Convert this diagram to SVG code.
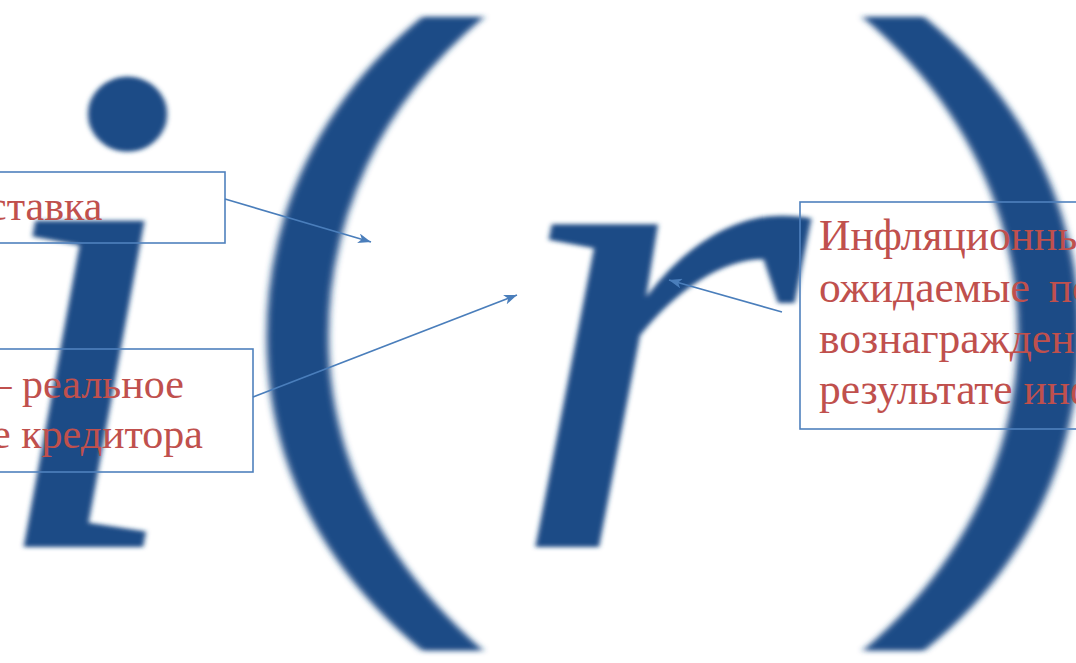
<svg xmlns="http://www.w3.org/2000/svg" width="1076" height="663" viewBox="0 0 1076 663">
  <style>
    .glyph { fill: #1f4b86; filter: url(#soft); }
    .gi { font-family: "Liberation Serif", "Times New Roman", serif; font-style: italic; font-size: 748px; }
    .gp { font-family: "Noto Sans", "DejaVu Sans", sans-serif; font-weight: 300; font-size: 727px; }
    .box { fill: none; stroke: #4f81bd; stroke-width: 1.6; }
    .lbl { font-family: "Liberation Serif", "Times New Roman", serif; font-size: 42px; fill: #c0504d; }
    .lbl3 { font-size: 43.5px; }
    .conn { fill: none; stroke: #4a7ebb; stroke-width: 1.6; marker-end: url(#arr); }
  </style>
  <defs>
    <filter id="soft" x="-10%" y="-10%" width="120%" height="120%">
      <feGaussianBlur stdDeviation="2.5"/>
    </filter>
    <marker id="arr" markerUnits="userSpaceOnUse" markerWidth="14" markerHeight="10" refX="13" refY="5" orient="auto">
      <path d="M0,0 L13,5 L0,10 L3.5,5 Z" fill="#4a7ebb"/>
    </marker>
  </defs>
  <rect width="1076" height="663" fill="#ffffff"/>

  <g id="formula">
    <text class="glyph gi" transform="translate(-18,547) scale(1,0.95)">i</text>
    <text class="glyph gp" transform="translate(223,536) scale(1.466,1)">(</text>
    <text class="glyph gi" transform="translate(503.5,547) scale(1.05,0.94)">r</text>
    <text class="glyph gp" transform="translate(827,536) scale(1.466,1)">)</text>
  </g>

  <g id="node-nominal">
    <rect class="box" x="-10" y="172" width="235" height="71"/>
    <text class="lbl" x="-12" y="220">ставка</text>
  </g>

  <g id="node-real">
    <rect class="box" x="-10" y="349" width="263" height="123"/>
    <text class="lbl" x="-9.5" y="398">– реальное</text>
    <text class="lbl" x="-8" y="448">е кредитора</text>
  </g>

  <g id="node-inflation">
    <rect class="box" x="800" y="202" width="290" height="227"/>
    <text class="lbl lbl3" x="819" y="250">Инфляционны</text>
    <text class="lbl lbl3" x="819" y="302" word-spacing="8">ожидаемые по</text>
    <text class="lbl lbl3" x="819" y="353">вознагражден</text>
    <text class="lbl lbl3" x="819" y="404">результате инф</text>
  </g>

  <g id="connectors">
    <line class="conn" x1="225" y1="199" x2="371" y2="242"/>
    <line class="conn" x1="253" y1="397" x2="517" y2="295"/>
    <line class="conn" x1="782" y1="312" x2="669" y2="280"/>
  </g>
</svg>
